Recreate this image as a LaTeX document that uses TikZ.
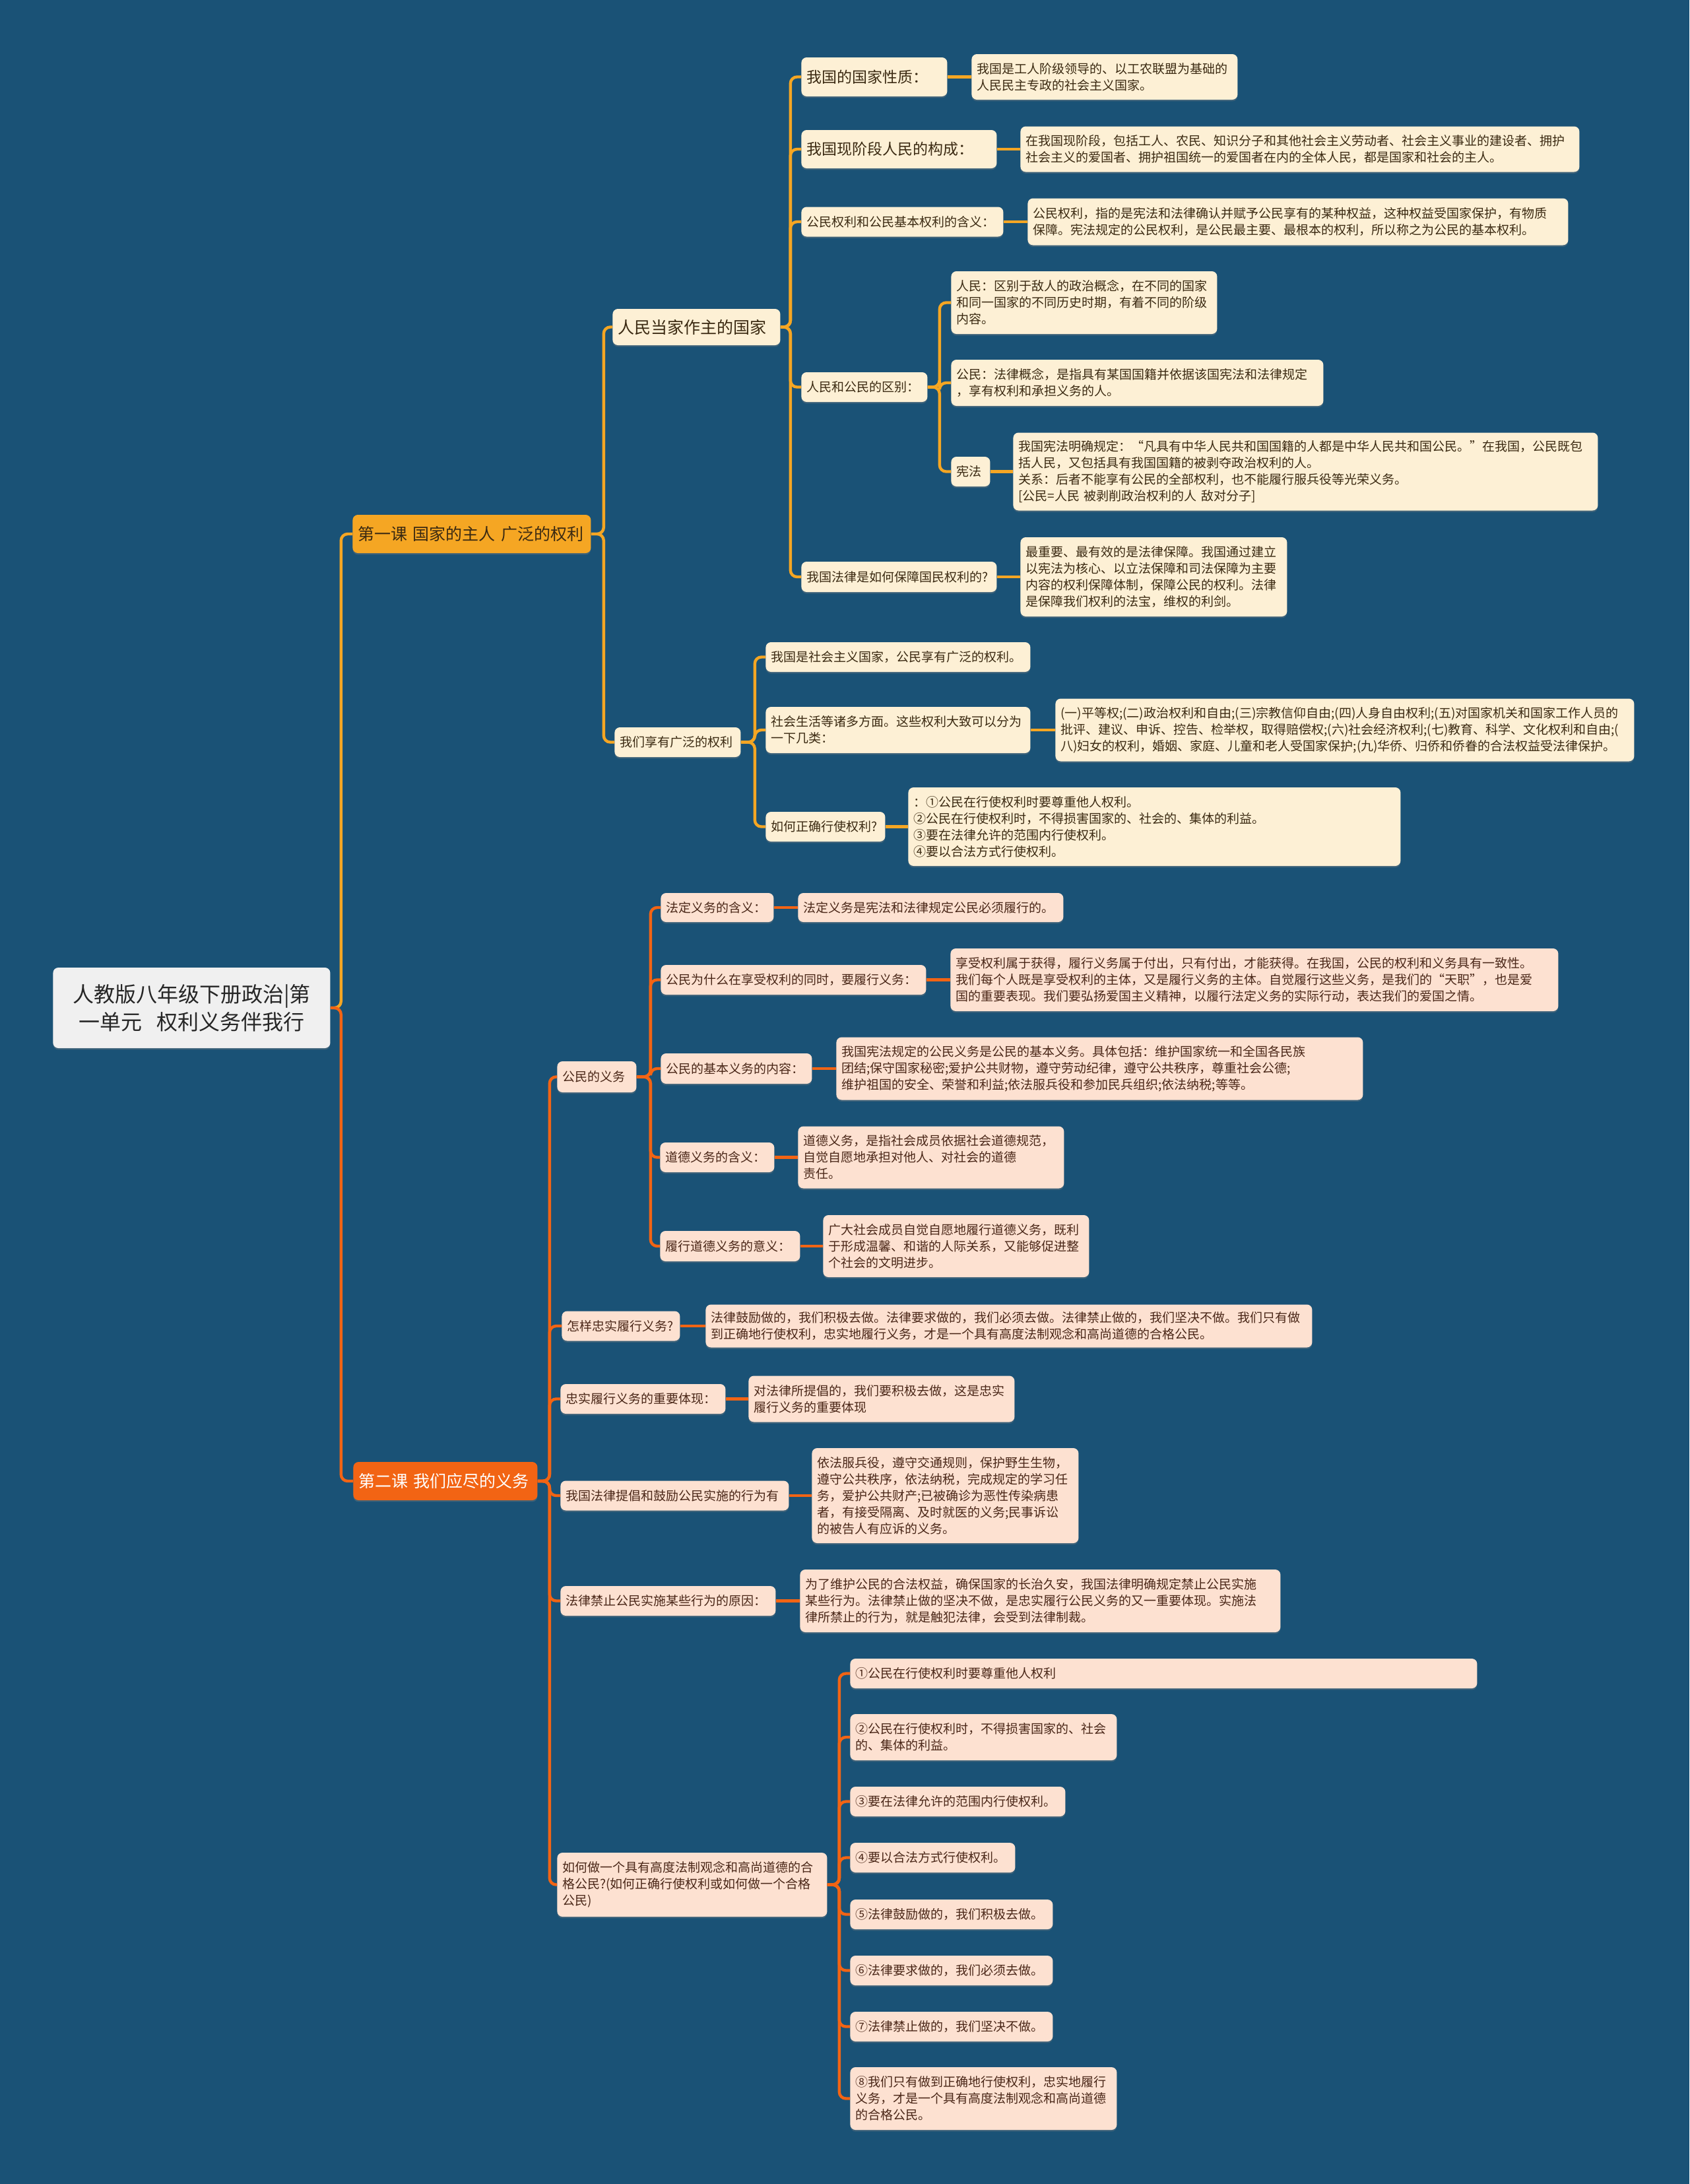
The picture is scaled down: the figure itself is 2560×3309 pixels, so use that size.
\documentclass[tikz,border=0pt]{standalone}
\usepackage{fontspec}
\setmainfont{Noto Sans CJK SC}
\usetikzlibrary{shadows}
\definecolor{Navy}{HTML}{1A5276}
\definecolor{Amber}{HTML}{F5A623}
\definecolor{Cream}{HTML}{FDF0D5}
\definecolor{Tangerine}{HTML}{F26414}
\definecolor{Peach}{HTML}{FDE1D1}
\definecolor{Umber}{HTML}{3B2A12}
\definecolor{Cocoa}{HTML}{4A2718}
\definecolor{Mist}{HTML}{F0F0F0}
\newcommand\leaffont{\fontsize{9.5}{12.5}\selectfont}
\newcommand\midfont{\fontsize{11.5}{14}\selectfont}
\newcommand\bigfont{\fontsize{12.5}{15}\selectfont}
\newcommand\rootfont{\fontsize{16}{21}\selectfont}

\begin{document}
\begin{tikzpicture}[x=0.5pt,y=-0.5pt,
  box/.style={anchor=west,rounded corners=4pt,inner xsep=4pt,inner ysep=3pt,
    align=left,font=\leaffont,
    drop shadow={shadow xshift=0pt,shadow yshift=-1.2pt,opacity=0.35}},
  ybox/.style={box,fill=Cream,text=Umber},
  obox/.style={box,fill=Peach,text=Cocoa},
  yline/.style={draw=Amber,line width=2.2pt,rounded corners=5pt},
  oline/.style={draw=Tangerine,line width=2.2pt,rounded corners=5pt}]

\fill[Navy] (0,0) rectangle (2560,3309);

% root and lessons
\node[box,fill=Mist,text=black!85,align=center,font=\rootfont,
  text width=202pt,minimum height=61pt] (root) at (80,1527)
  {人教版八年级下册政治|第\\一单元\ \ 权利义务伴我行};
\node[box,fill=Amber,text=Umber,font=\bigfont,text width=172.5pt,minimum height=29pt]
  (L1) at (534,809) {第一课 国家的主人 广泛的权利};
\node[box,fill=Tangerine,text=white,font=\bigfont,text width=131.5pt,minimum height=29pt]
  (L2) at (535,2244) {第二课 我们应尽的义务};

% lesson one
\node[ybox,font=\bigfont,text width=119pt,minimum height=27.5pt] (A1) at (928,495.5) {人民当家作主的国家};
\node[ybox,text width=87.5pt,minimum height=22.5pt] (A2) at (931,1124.5) {我们享有广泛的权利};

\node[ybox,font=\midfont,text width=102.5pt,minimum height=29.5pt] (B1) at (1214,116.5) {我国的国家性质：};
\node[ybox,text width=193.5pt,minimum height=34.5pt] (B1L) at (1472,116.5)
  {我国是工人阶级领导的、以工农联盟为基础的\\人民民主专政的社会主义国家。};
\node[ybox,font=\midfont,text width=140pt,minimum height=29pt] (B2) at (1214,226) {我国现阶段人民的构成：};
\node[ybox,text width=415.5pt,minimum height=34.5pt] (B2L) at (1546,226)
  {在我国现阶段，包括工人、农民、知识分子和其他社会主义劳动者、社会主义事业的建设者、拥护\\社会主义的爱国者、拥护祖国统一的爱国者在内的全体人民，都是国家和社会的主人。};
\node[ybox,text width=145pt,minimum height=22.5pt] (B3) at (1214,336) {公民权利和公民基本权利的含义：};
\node[ybox,text width=401.5pt,minimum height=35.5pt] (B3L) at (1557,336)
  {公民权利，指的是宪法和法律确认并赋予公民享有的某种权益，这种权益受国家保护，有物质\\保障。宪法规定的公民权利，是公民最主要、最根本的权利，所以称之为公民的基本权利。};
\node[ybox,text width=87.5pt,minimum height=22.5pt] (B4) at (1214,586.5) {人民和公民的区别：};
\node[ybox,text width=193.5pt,minimum height=47.5pt] (C1) at (1441,458.5)
  {人民：区别于敌人的政治概念，在不同的国家\\和同一国家的不同历史时期，有着不同的阶级\\内容。};
\node[ybox,text width=274pt,minimum height=35pt] (C2) at (1441,580)
  {公民：法律概念，是指具有某国国籍并依据该国宪法和法律规定\\，享有权利和承担义务的人。};
\node[ybox,text width=21.5pt,minimum height=22.5pt] (C3) at (1441,714.5) {宪法};
\node[ybox,text width=435pt,minimum height=59pt] (C3L) at (1535,714.5)
  {我国宪法明确规定：“凡具有中华人民共和国国籍的人都是中华人民共和国公民。”在我国，公民既包\\括人民，又包括具有我国国籍的被剥夺政治权利的人。\\关系：后者不能享有公民的全部权利，也不能履行服兵役等光荣义务。\\{[}公民=人民 被剥削政治权利的人 敌对分子]};
\node[ybox,text width=140pt,minimum height=23pt] (B5) at (1214,874) {我国法律是如何保障国民权利的?};
\node[ybox,text width=194pt,minimum height=60pt] (B5L) at (1546,874)
  {最重要、最有效的是法律保障。我国通过建立\\以宪法为核心、以立法保障和司法保障为主要\\内容的权利保障体制，保障公民的权利。法律\\是保障我们权利的法宝，维权的利剑。};

\node[ybox,text width=192.5pt,minimum height=22.5pt] (D1) at (1160,995.5) {我国是社会主义国家，公民享有广泛的权利。};
\node[ybox,text width=192.5pt,minimum height=35pt] (D2) at (1160,1106)
  {社会生活等诸多方面。这些权利大致可以分为\\一下几类：};
\node[ybox,text width=430.5pt,minimum height=47.5pt] (D2L) at (1599,1106)
  {(一)平等权;(二)政治权利和自由;(三)宗教信仰自由;(四)人身自由权利;(五)对国家机关和国家工作人员的\\批评、建议、申诉、控告、检举权，取得赔偿权;(六)社会经济权利;(七)教育、科学、文化权利和自由;(\\八)妇女的权利，婚姻、家庭、儿童和老人受国家保护;(九)华侨、归侨和侨眷的合法权益受法律保护。};
\node[ybox,text width=82.5pt,minimum height=22.5pt] (D3) at (1160,1252.5) {如何正确行使权利?};
\node[ybox,text width=365pt,minimum height=59.5pt] (D3L) at (1376,1252.5)
  {：①公民在行使权利时要尊重他人权利。\\②公民在行使权利时，不得损害国家的、社会的、集体的利益。\\③要在法律允许的范围内行使权利。\\④要以合法方式行使权利。};

% lesson two
\node[obox,text width=52pt,minimum height=23.5pt] (E1) at (844,1631.5) {公民的义务};
\node[obox,text width=77.5pt,minimum height=22pt] (F1) at (1001,1375) {法定义务的含义：};
\node[obox,text width=193pt,minimum height=22pt] (F1L) at (1209,1375) {法定义务是宪法和法律规定公民必须履行的。};
\node[obox,text width=193pt,minimum height=22.5pt] (F2) at (1001,1484.5) {公民为什么在享受权利的同时，要履行义务：};
\node[obox,text width=452.5pt,minimum height=47.5pt] (F2L) at (1440,1484.5)
  {享受权利属于获得，履行义务属于付出，只有付出，才能获得。在我国，公民的权利和义务具有一致性。\\我们每个人既是享受权利的主体，又是履行义务的主体。自觉履行这些义务，是我们的“天职”，也是爱\\国的重要表现。我们要弘扬爱国主义精神，以履行法定义务的实际行动，表达我们的爱国之情。};
\node[obox,text width=106.5pt,minimum height=23pt] (F3) at (1001,1619) {公民的基本义务的内容：};
\node[obox,text width=391pt,minimum height=47.5pt] (F3L) at (1267,1619)
  {我国宪法规定的公民义务是公民的基本义务。具体包括：维护国家统一和全国各民族\\团结;保守国家秘密;爱护公共财物，遵守劳动纪律，遵守公共秩序，尊重社会公德;\\维护祖国的安全、荣誉和利益;依法服兵役和参加民兵组织;依法纳税;等等。};
\node[obox,text width=78.5pt,minimum height=22.5pt] (F4) at (1000,1753.5) {道德义务的含义：};
\node[obox,text width=193.5pt,minimum height=47pt] (F4L) at (1209,1753.5)
  {道德义务，是指社会成员依据社会道德规范，\\自觉自愿地承担对他人、对社会的道德\\责任。};
\node[obox,text width=98pt,minimum height=23pt] (F5) at (1000,1888) {履行道德义务的意义：};
\node[obox,text width=193.5pt,minimum height=47pt] (F5L) at (1247,1888)
  {广大社会成员自觉自愿地履行道德义务，既利\\于形成温馨、和谐的人际关系，又能够促进整\\个社会的文明进步。};

\node[obox,text width=81.5pt,minimum height=22.5pt] (E2) at (851,2009) {怎样忠实履行义务?};
\node[obox,text width=451.5pt,minimum height=32.5pt] (E2L) at (1069,2009)
  {法律鼓励做的，我们积极去做。法律要求做的，我们必须去做。法律禁止做的，我们坚决不做。我们只有做\\到正确地行使权利，忠实地履行义务，才是一个具有高度法制观念和高尚道德的合格公民。};
\node[obox,text width=117pt,minimum height=22.5pt] (E3) at (849,2119.5) {忠实履行义务的重要体现：};
\node[obox,text width=193.5pt,minimum height=35pt] (E3L) at (1134,2119.5)
  {对法律所提倡的，我们要积极去做，这是忠实\\履行义务的重要体现};
\node[obox,text width=165pt,minimum height=22.5pt] (E4) at (849,2266) {我国法律提倡和鼓励公民实施的行为有};
\node[obox,text width=194pt,minimum height=72pt] (E4L) at (1230,2266)
  {依法服兵役，遵守交通规则，保护野生生物，\\遵守公共秩序，依法纳税，完成规定的学习任\\务，爱护公共财产;已被确诊为恶性传染病患\\者，有接受隔离、及时就医的义务;民事诉讼\\的被告人有应诉的义务。};
\node[obox,text width=155pt,minimum height=22.5pt] (E5) at (849,2425.5) {法律禁止公民实施某些行为的原因：};
\node[obox,text width=356pt,minimum height=47.5pt] (E5L) at (1212,2425.5)
  {为了维护公民的合法权益，确保国家的长治久安，我国法律明确规定禁止公民实施\\某些行为。法律禁止做的坚决不做，是忠实履行公民义务的又一重要体现。实施法\\律所禁止的行为，就是触犯法律，会受到法律制裁。};
\node[obox,text width=196.5pt,minimum height=48.5pt] (E6) at (844,2855.5)
  {如何做一个具有高度法制观念和高尚道德的合\\格公民?(如何正确行使权利或如何做一个合格\\公民)};

\node[obox,text width=467pt,minimum height=22.5pt] (G1) at (1288,2535.5) {①公民在行使权利时要尊重他人权利};
\node[obox,text width=194pt,minimum height=35pt] (G2) at (1288,2632)
  {②公民在行使权利时，不得损害国家的、社会\\的、集体的利益。};
\node[obox,text width=155pt,minimum height=22.5pt] (G3) at (1288,2729.5) {③要在法律允许的范围内行使权利。};
\node[obox,text width=117pt,minimum height=22.5pt] (G4) at (1288,2814.5) {④要以合法方式行使权利。};
\node[obox,text width=145.5pt,minimum height=22.5pt] (G5) at (1288,2900.5) {⑤法律鼓励做的，我们积极去做。};
\node[obox,text width=145.5pt,minimum height=22.5pt] (G6) at (1288,2985.5) {⑥法律要求做的，我们必须去做。};
\node[obox,text width=145.5pt,minimum height=22.5pt] (G7) at (1288,3070.5) {⑦法律禁止做的，我们坚决不做。};
\node[obox,text width=194pt,minimum height=47.5pt] (G8) at (1288,3179.5)
  {⑧我们只有做到正确地行使权利，忠实地履行\\义务，才是一个具有高度法制观念和高尚道德\\的合格公民。};

% connectors
\draw[yline] (root.east) -- ++(16,0) |- (L1.west);
\draw[oline] (root.east) -- ++(16,0) |- (L2.west);
\foreach \c in {A1,A2} \draw[yline] (L1.east) -- ++(19,0) |- (\c.west);
\foreach \c in {B1,B2,B3,B4,B5} \draw[yline] (A1.east) -- ++(15,0) |- (\c.west);
\foreach \c in {C1,C2,C3} \draw[yline] (B4.east) -- ++(18,0) |- (\c.west);
\foreach \c in {D1,D2,D3} \draw[yline] (A2.east) -- ++(21,0) |- (\c.west);
\foreach \a/\b in {B1/B1L,B2/B2L,B3/B3L,C3/C3L,B5/B5L,D2/D2L,D3/D3L}
  \draw[yline] (\a.east) -- (\b.west);
\foreach \c in {E1,E2,E3,E4,E5,E6} \draw[oline] (L2.east) -- ++(18,0) |- (\c.west);
\foreach \c in {F1,F2,F3,F4,F5} \draw[oline] (E1.east) -- ++(21,0) |- (\c.west);
\foreach \c in {G1,G2,G3,G4,G5,G6,G7,G8} \draw[oline] (E6.east) -- ++(18,0) |- (\c.west);
\foreach \a/\b in {F1/F1L,F2/F2L,F3/F3L,F4/F4L,F5/F5L,E2/E2L,E3/E3L,E4/E4L,E5/E5L}
  \draw[oline] (\a.east) -- (\b.west);
\end{tikzpicture}
\end{document}
